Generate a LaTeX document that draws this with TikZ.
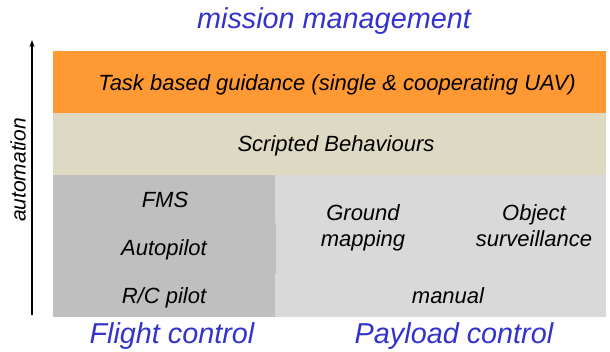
\documentclass[tikz,border=0pt]{standalone}
\usepackage{fontspec}
\setmainfont{Liberation Sans}
\usetikzlibrary{arrows.meta}

\definecolor{taskorange}{RGB}{255,153,51}
\definecolor{scriptbeige}{RGB}{221,217,195}
\definecolor{flightgray}{RGB}{191,191,191}
\definecolor{payloadgray}{RGB}{217,217,217}
\definecolor{headblue}{RGB}{51,51,204}

\tikzset{
  celltext/.style={inner sep=0pt, anchor=base,
    font=\fontsize{22}{26}\selectfont\itshape},
  pairtext/.style={inner sep=0pt, align=center,
    font=\fontsize{22}{26}\selectfont\itshape},
  headtext/.style={inner sep=0pt, anchor=base, text=headblue,
    font=\fontsize{28.8}{32}\selectfont\itshape},
  axistext/.style={inner sep=0pt, rotate=90,
    font=\fontsize{21}{25}\selectfont\itshape},
  axisarrow/.style={line width=1.3pt, -{Stealth[length=7pt,width=5pt]}}
}

\begin{document}
\begin{tikzpicture}[x=1pt,y=-1pt]
\useasboundingbox (0,0) rectangle (610,352);

% layered bands
\fill[taskorange] (52.5,51.5) rectangle (605.5,113);
\fill[scriptbeige] (52.5,113) rectangle (605.5,175);
\fill[payloadgray] (275,175) rectangle (605.5,317);
% flight control cells (middle row slightly wider)
\fill[flightgray] (52.5,175) rectangle (275,223);
\fill[flightgray] (52.5,223) rectangle (276,274);
\fill[flightgray] (52.5,274) rectangle (275,317);

% labels, placed on their baselines
\node[headtext] (mission) at (334,28.5) {mission management};
\node[celltext] (task) at (337,90.7) {Task based guidance (single \& cooperating UAV)};
\node[celltext] (scripted) at (336,151.7) {Scripted Behaviours};
\node[celltext] (fms) at (165,207.3) {FMS};
\node[celltext] (autopilot) at (164,256) {Autopilot};
\node[celltext] (rcpilot) at (164,303.3) {R/C pilot};
\node[pairtext] (ground) at (363,227.5) {Ground\\mapping};
\node[pairtext] (object) at (534,225.2) {Object\\surveillance};
\node[celltext] (manual) at (448,303.3) {manual};
\node[headtext] (flight) at (172,344) {Flight control};
\node[headtext] (payload) at (454,344) {Payload control};

% automation axis
\coordinate (axislow) at (32,315);
\coordinate (axishigh) at (32,40);
\draw[axisarrow] (axislow) -- (axishigh);
\node[axistext] (automation) at (18,170) {automation};
\end{tikzpicture}
\end{document}
